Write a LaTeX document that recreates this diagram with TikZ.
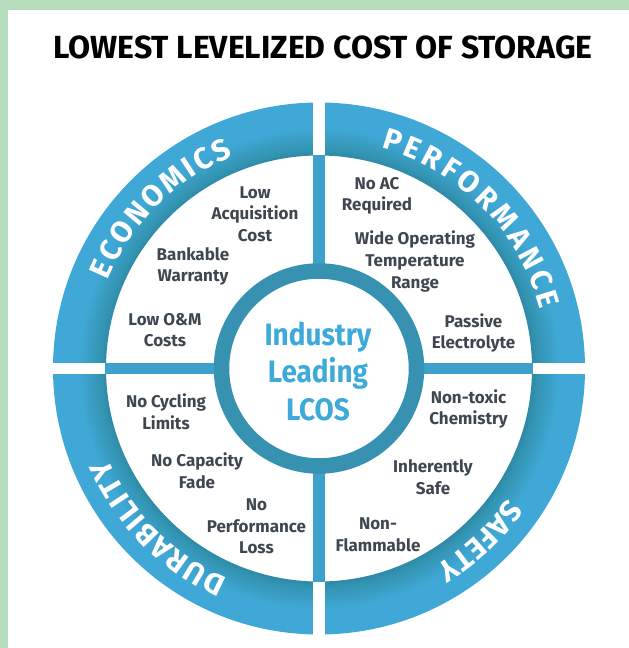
\documentclass[tikz,border=0pt]{standalone}
\usepackage{fontspec}
\setmainfont{Fira Sans}
\newfontfamily\titlefont{Fira Sans}
\newfontfamily\hubfont[FakeStretch=0.9]{Fira Sans}
\usetikzlibrary{positioning,decorations.text}

\definecolor{pagegreen}{RGB}{181,221,187}
\definecolor{barblue}{RGB}{60,162,204}
\definecolor{hubteal}{RGB}{55,146,178}
\definecolor{hubtext}{RGB}{62,170,218}
\definecolor{itemgray}{RGB}{62,70,80}

% outer band: dark teal on the inner edge, light blue outside
% (25bp is the outer rim of the band, 20bp its inner edge)
\pgfdeclareradialshading{bandshade}{\pgfpoint{0bp}{0bp}}{%
  rgb(0bp)=(0.18,0.54,0.65); rgb(20bp)=(0.18,0.54,0.65);
  rgb(20.6bp)=(0.2,0.58,0.7); rgb(22.6bp)=(0.25,0.66,0.84);
  rgb(50bp)=(0.25,0.66,0.84)}

% band lettering, #1 = extra room before each letter
\newcommand\bandtext[1]{\bfseries\fontsize{30}{30}\selectfont\kern#1}

\tikzset{
  item/.style={align=center, text=itemgray,
    font=\bfseries\fontsize{17}{21.7}\selectfont},
  bandlabel/.style={decorate, decoration={text along path,
    text align=center, text color=white}}
}

\begin{document}
\begin{tikzpicture}[x=1pt,y=1pt]
    \useasboundingbox (-319,-279.5) rectangle (310,368.5);

    % page frame
    \fill[pagegreen] (-319,358.5) rectangle (310,368.5);
    \fill[pagegreen] (-319,-279.5) rectangle (-311,368.5);

    \node (title) at (4,321.5)
        {\titlefont\bfseries\fontsize{32}{32}\selectfont LOWEST LEVELIZED COST OF STORAGE};

    % outer band
    \shade[shading=bandshade, even odd rule]
        (0,0) circle (266) (0,0) circle (213);
    % white cuts through the band
    \fill[white] (-6,-270) rectangle (6,270);
    \fill[white] (-270,-5.5) rectangle (270,5.5);
    % spokes from hub to band
    \fill[barblue] (-6,95) rectangle (6,213.5);
    \fill[barblue] (-6,-213.5) rectangle (6,-95);
    \fill[barblue] (-213.5,-5.5) rectangle (-95,5.5);
    \fill[barblue] (95,-5.5) rectangle (213.5,5.5);

    % band labels, all running clockwise
    \path[bandlabel, decoration={text={|\bandtext{2.5pt}|ECONOMICS}}]
        (180:229) arc[start angle=180, end angle=90, radius=229];
    \path[bandlabel, decoration={text={|\bandtext{3.7pt}|PERFORMANCE}}]
        (90:229) arc[start angle=90, end angle=0, radius=229];
    \path[bandlabel, decoration={text={|\bandtext{0pt}|SAFETY}}]
        (-2:229) arc[start angle=-2, end angle=-92, radius=229];
    \path[bandlabel, decoration={text={|\bandtext{1.4pt}|DURABILITY}}]
        (270:229) arc[start angle=270, end angle=180, radius=229];

    % hub
    \draw[hubteal, line width=15.5, fill=white] (0,0) circle (97.5);
    \node[align=center, text=hubtext,
          font=\hubfont\bfseries\fontsize{31}{37.5}\selectfont] (hub) at (-1,-2.5)
        {Industry\\Leading\\LCOS};

    % economics
    \node[item] (acquisition) at (-64,154.5) {Low\\Acquisition\\Cost};
    \node[item] (warranty) at (-126,102) {Bankable\\Warranty};
    \node[item] (omcost) at (-154,38.5) {Low O\&M\\Costs};

    % performance
    \node[item] (noac) at (58,172.5) {No AC\\Required};
    \node[item] (temprange) at (96,107) {Wide Operating\\Temperature\\Range};
    \node[item] (passive) at (154.5,35.5) {Passive\\Electrolyte};

    % durability
    \node[item] (cycling) at (-153,-43.5) {No Cycling\\Limits};
    \node[item] (fade) at (-122,-102.5) {No Capacity\\Fade};
    \node[item] (perfloss) at (-62.5,-158) {No\\Performance\\Loss};

    % safety
    \node[item] (nontoxic) at (149.5,-40.5) {Non-toxic\\Chemistry};
    \node[item] (inherent) at (114,-108.5) {Inherently\\Safe};
    \node[item] (nonflam) at (59,-166.5) {Non-\\Flammable};
\end{tikzpicture}
\end{document}
